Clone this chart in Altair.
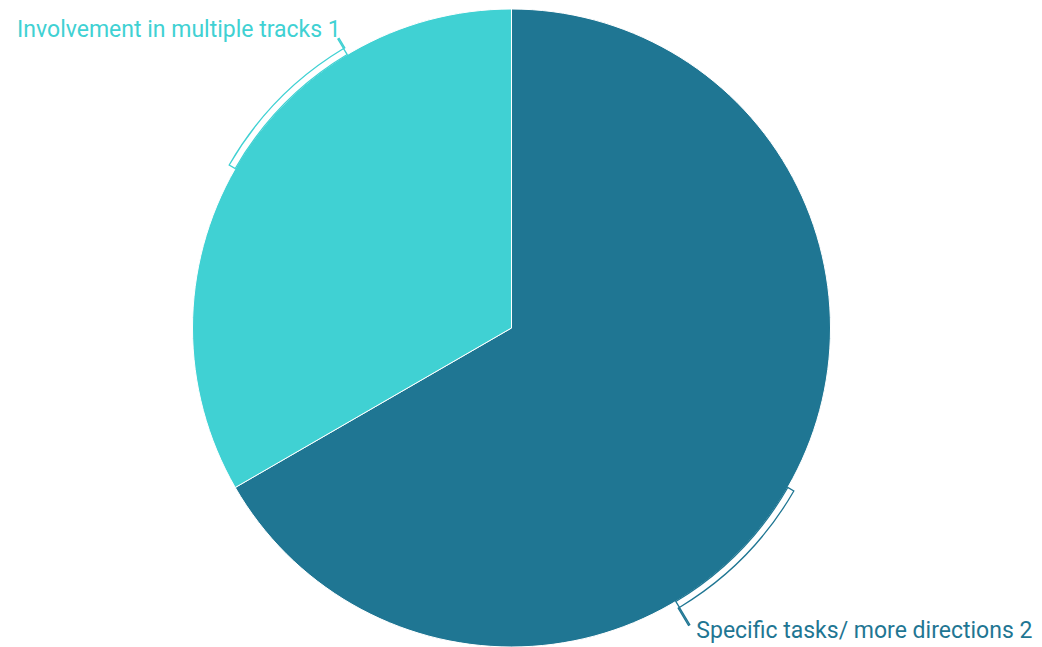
import altair as alt
import pandas as pd

categories = ["Specific tasks/ more directions", "Involvement in multiple tracks"]
values = [2, 1]
colors = ["#1f7693", "#40d1d3"]

total = sum(values)
starts, ends = [], []
acc = 0
for v in values:
    starts.append(acc)
    acc += v
    ends.append(acc)

df = pd.DataFrame({
    "category": categories,
    "value": values,
    "start": starts,
    "end": ends,
})
df["label"] = df["category"] + " " + df["value"].astype(str)
df["mid"] = (df["start"] + df["end"]) / 2
deg = total / 360.0
df["b_end"] = df["mid"] + 29 * deg
df["lead2"] = df["b_end"] + 0.002

W, H = 1026, 639
CX, CY = 503.5, 320
R = 319

theta_scale = alt.Scale(domain=[0, total], range=[0, 6.283185307179586])
color_scale = alt.Scale(domain=categories, range=colors)

base = alt.Chart(df).encode(
    x=alt.value(CX), y=alt.value(CY),
    color=alt.Color("category:N", scale=color_scale, legend=None),
)

pie = base.mark_arc(radius=R, stroke="white", strokeWidth=1).encode(
    theta=alt.Theta("start:Q", scale=theta_scale),
    theta2="end:Q",
)

bracket = base.mark_arc(radius=R + 7, radius2=R, filled=False, strokeWidth=1.3).encode(
    theta=alt.Theta("mid:Q", scale=theta_scale),
    theta2="b_end:Q",
    stroke=alt.Stroke("category:N", scale=color_scale, legend=None),
)

lead_top = alt.Chart(df[df["category"] == categories[1]]).mark_arc(
    radius=R + 18, radius2=R + 7, filled=False, strokeWidth=1.3
).encode(
    x=alt.value(CX), y=alt.value(CY),
    theta=alt.Theta("b_end:Q", scale=theta_scale),
    theta2="lead2:Q",
    stroke=alt.Stroke("category:N", scale=color_scale, legend=None),
)

lead_bot = alt.Chart(df[df["category"] == categories[0]]).mark_arc(
    radius=R + 27, radius2=R + 7, filled=False, strokeWidth=1.3
).encode(
    x=alt.value(CX), y=alt.value(CY),
    theta=alt.Theta("b_end:Q", scale=theta_scale),
    theta2="lead2:Q",
    stroke=alt.Stroke("category:N", scale=color_scale, legend=None),
)

text_top = alt.Chart(df[df["category"] == categories[1]]).mark_text(
    radius=R + 28, align="right", baseline="middle", font="Roboto", fontSize=23, dx=8, dy=-1
).encode(
    x=alt.value(CX), y=alt.value(CY),
    theta=alt.Theta("b_end:Q", scale=theta_scale),
    text="label:N",
    color=alt.Color("category:N", scale=color_scale, legend=None),
)

text_bot = alt.Chart(df[df["category"] == categories[0]]).mark_text(
    radius=R + 34, align="left", baseline="middle", font="Roboto", fontSize=23, dx=3
).encode(
    x=alt.value(CX), y=alt.value(CY),
    theta=alt.Theta("b_end:Q", scale=theta_scale),
    text="label:N",
    color=alt.Color("category:N", scale=color_scale, legend=None),
)

chart = alt.layer(pie, bracket, lead_top, lead_bot, text_top, text_bot).resolve_scale(
    theta="shared"
).properties(
    width=W, height=H, padding=0, autosize=alt.AutoSizeParams(type="none")
).configure_view(stroke=None)

chart.save("out.html", embed_options={"renderer": "svg", "actions": False})
